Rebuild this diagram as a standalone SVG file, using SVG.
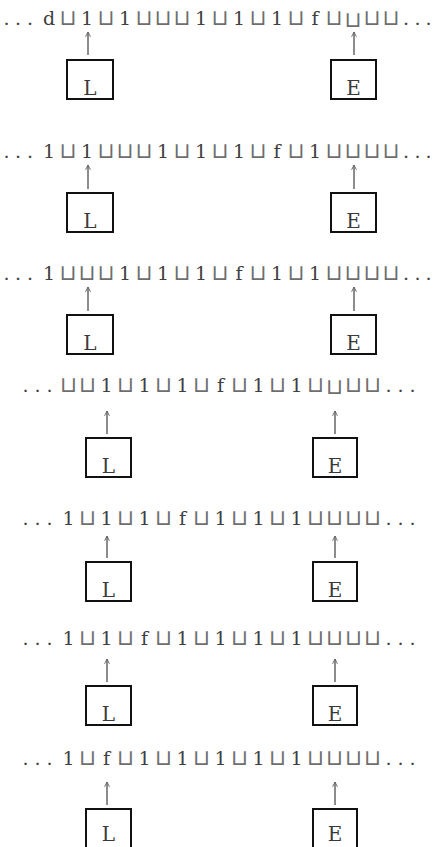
<svg xmlns="http://www.w3.org/2000/svg" width="434" height="847" viewBox="0 0 434 847">
<style>
.tape{font-family:"DejaVu Serif","Liberation Serif",serif;font-size:19px;fill:#404040;text-anchor:middle}
.c{font-family:"DejaVu Sans",sans-serif;font-size:22px;fill:#6e6e6e}
.box{fill:none;stroke:#111;stroke-width:2}
.lbl{font-family:"DejaVu Serif","Liberation Serif",serif;font-size:20px;fill:#3a3a3a;text-anchor:middle}
.arr{stroke:#666;stroke-width:1.5;fill:none;marker-end:url(#ah)}
</style>
<defs>
<marker id="ah" viewBox="0 0 10 10" refX="9" refY="5" markerWidth="6" markerHeight="6" markerUnits="userSpaceOnUse" orient="auto">
<path d="M1,1 L9,5 L1,9" fill="none" stroke="#666" stroke-width="1.6"/>
</marker>
</defs>
<rect width="434" height="847" fill="#fff"/>

<g id="tape1"><text class="tape" x="6.5 18 30 49 68 87 106 125 144 163 182 201 220 239 258 277 296 315 334 353 372 391 406 417.5 428.5" y="25 25 25 25 25 25 25 25 25 25 25 25 25 25 25 25 25 25 25 26.5 25 25 25 25 25">...d<tspan class="c">⊔</tspan>1<tspan class="c">⊔</tspan>1<tspan class="c">⊔⊔⊔</tspan>1<tspan class="c">⊔</tspan>1<tspan class="c">⊔</tspan>1<tspan class="c">⊔</tspan>f<tspan class="c">⊔⊔⊔⊔</tspan>...</text></g>
<g id="tape2"><text class="tape" x="6.5 18 30 49 68 87 106 125 144 163 182 201 220 239 258 277 296 315 334 353 372 391 406 417.5 428.5" y="158">...1<tspan class="c">⊔</tspan>1<tspan class="c">⊔⊔⊔</tspan>1<tspan class="c">⊔</tspan>1<tspan class="c">⊔</tspan>1<tspan class="c">⊔</tspan>f<tspan class="c">⊔</tspan>1<tspan class="c">⊔⊔⊔⊔</tspan>...</text></g>
<g id="tape3"><text class="tape" x="6.5 18 30 49 68 87 106 125 144 163 182 201 220 239 258 277 296 315 334 353 372 391 406 417.5 428.5" y="280">...1<tspan class="c">⊔⊔⊔</tspan>1<tspan class="c">⊔</tspan>1<tspan class="c">⊔</tspan>1<tspan class="c">⊔</tspan>f<tspan class="c">⊔</tspan>1<tspan class="c">⊔</tspan>1<tspan class="c">⊔⊔⊔⊔</tspan>...</text></g>
<g id="tape4"><text class="tape" x="25.5 37.5 49.5 68.5 87.5 106.5 125.5 144.5 163.5 182.5 201.5 220.5 239.5 258.5 277.5 296.5 315.5 334.5 353.5 372.5 388.5 400.5 412.5" y="392 392 392 392 392 392 392 392 392 392 392 392 392 392 392 392 392 393.5 392 392 392 392 392">...<tspan class="c">⊔⊔</tspan>1<tspan class="c">⊔</tspan>1<tspan class="c">⊔</tspan>1<tspan class="c">⊔</tspan>f<tspan class="c">⊔</tspan>1<tspan class="c">⊔</tspan>1<tspan class="c">⊔⊔⊔⊔</tspan>...</text></g>
<g id="tape5"><text class="tape" x="25.5 37.5 49.5 68.5 87.5 106.5 125.5 144.5 163.5 182.5 201.5 220.5 239.5 258.5 277.5 296.5 315.5 334.5 353.5 372.5 388.5 400.5 412.5" y="525">...1<tspan class="c">⊔</tspan>1<tspan class="c">⊔</tspan>1<tspan class="c">⊔</tspan>f<tspan class="c">⊔</tspan>1<tspan class="c">⊔</tspan>1<tspan class="c">⊔</tspan>1<tspan class="c">⊔⊔⊔⊔</tspan>...</text></g>
<g id="tape6"><text class="tape" x="25.5 37.5 49.5 68.5 87.5 106.5 125.5 144.5 163.5 182.5 201.5 220.5 239.5 258.5 277.5 296.5 315.5 334.5 353.5 372.5 388.5 400.5 412.5" y="645">...1<tspan class="c">⊔</tspan>1<tspan class="c">⊔</tspan>f<tspan class="c">⊔</tspan>1<tspan class="c">⊔</tspan>1<tspan class="c">⊔</tspan>1<tspan class="c">⊔</tspan>1<tspan class="c">⊔⊔⊔⊔</tspan>...</text></g>
<g id="tape7"><text class="tape" x="25.5 37.5 49.5 68.5 87.5 106.5 125.5 144.5 163.5 182.5 201.5 220.5 239.5 258.5 277.5 296.5 315.5 334.5 353.5 372.5 388.5 400.5 412.5" y="765">...1<tspan class="c">⊔</tspan>f<tspan class="c">⊔</tspan>1<tspan class="c">⊔</tspan>1<tspan class="c">⊔</tspan>1<tspan class="c">⊔</tspan>1<tspan class="c">⊔</tspan>1<tspan class="c">⊔⊔⊔⊔</tspan>...</text></g>

<g id="L1"><rect class="box" x="67" y="60" width="46" height="39"/><text class="lbl" x="90" y="95">L</text></g>
<g id="E1"><rect class="box" x="331" y="60" width="45" height="39"/><text class="lbl" x="353.5" y="95">E</text></g>
<g id="L2"><rect class="box" x="67" y="193" width="46" height="39"/><text class="lbl" x="90" y="228">L</text></g>
<g id="E2"><rect class="box" x="331" y="193" width="45" height="39"/><text class="lbl" x="353.5" y="228">E</text></g>
<g id="L3"><rect class="box" x="67" y="315" width="46" height="39"/><text class="lbl" x="90" y="350">L</text></g>
<g id="E3"><rect class="box" x="331" y="315" width="45" height="39"/><text class="lbl" x="353.5" y="350">E</text></g>
<g id="L4"><rect class="box" x="86" y="438" width="45" height="39"/><text class="lbl" x="108.5" y="473">L</text></g>
<g id="E4"><rect class="box" x="313" y="438" width="44" height="39"/><text class="lbl" x="335" y="473">E</text></g>
<g id="L5"><rect class="box" x="86" y="562" width="45" height="39"/><text class="lbl" x="108.5" y="597">L</text></g>
<g id="E5"><rect class="box" x="313" y="562" width="44" height="39"/><text class="lbl" x="335" y="597">E</text></g>
<g id="L6"><rect class="box" x="86" y="686" width="45" height="39"/><text class="lbl" x="108.5" y="721">L</text></g>
<g id="E6"><rect class="box" x="313" y="686" width="44" height="39"/><text class="lbl" x="335" y="721">E</text></g>
<g id="L7"><rect class="box" x="86" y="809" width="45" height="40"/><text class="lbl" x="108.5" y="841">L</text></g>
<g id="E7"><rect class="box" x="313" y="809" width="44" height="40"/><text class="lbl" x="335" y="841">E</text></g>

<g id="connectors">
<line class="arr" x1="88" y1="55" x2="88" y2="32"/>
<line class="arr" x1="354" y1="55" x2="354" y2="32"/>
<line class="arr" x1="88" y1="189" x2="88" y2="165"/>
<line class="arr" x1="354" y1="189" x2="354" y2="165"/>
<line class="arr" x1="88" y1="311" x2="88" y2="287"/>
<line class="arr" x1="354" y1="311" x2="354" y2="287"/>
<line class="arr" x1="107" y1="434" x2="107" y2="411"/>
<line class="arr" x1="335" y1="434" x2="335" y2="411"/>
<line class="arr" x1="107" y1="558" x2="107" y2="536"/>
<line class="arr" x1="335" y1="558" x2="335" y2="536"/>
<line class="arr" x1="107" y1="682" x2="107" y2="659"/>
<line class="arr" x1="335" y1="682" x2="335" y2="659"/>
<line class="arr" x1="107" y1="805" x2="107" y2="782"/>
<line class="arr" x1="335" y1="805" x2="335" y2="782"/>
</g>
</svg>
